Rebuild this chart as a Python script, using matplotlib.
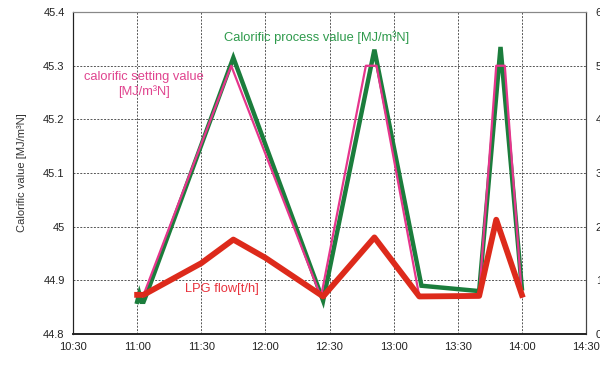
import matplotlib
matplotlib.use('Agg')
import matplotlib.pyplot as plt

# time stamps as "HH:MM"
set_time = ["11:00", "11:03", "11:44", "12:26", "12:47", "12:52", "13:12", "13:40", "13:48", "13:52", "14:00"]
set_value = [44.873, 44.873, 45.30, 44.869, 45.30, 45.30, 44.870, 44.871, 45.30, 45.30, 44.870]

proc_time = ["11:00", "11:01", "11:02", "11:03", "11:04", "11:45", "12:27", "12:51", "13:13", "13:40", "13:50", "14:00"]
proc_value = [44.86, 44.875, 44.86, 44.86, 44.87, 45.315, 44.862, 45.33, 44.89, 44.88, 45.335, 44.885]

lpg_time = ["11:00", "11:03", "11:30", "11:45", "12:00", "12:27", "12:51", "13:12", "13:40", "13:48", "14:00"]
lpg_flow = [0.73, 0.73, 1.32, 1.76, 1.42, 0.70, 1.80, 0.70, 0.71, 2.13, 0.73]

x_ticks = ["10:30", "11:00", "11:30", "12:00", "12:30", "13:00", "13:30", "14:00", "14:30"]
y_ticks = [44.8, 44.9, 45.0, 45.1, 45.2, 45.3, 45.4]
y_tick_labels = ["44.8", "44.9", "45", "45.1", "45.2", "45.3", "45.4"]
y2_ticks = [0, 1, 2, 3, 4, 5, 6]


def minutes(t):
    h, m = t.split(":")
    return int(h) * 60 + int(m)


plt.rcParams['font.family'] = ['Liberation Sans', 'DejaVu Sans']

fig = plt.figure(figsize=(6, 3.65), dpi=100)
ax = fig.add_axes([0.1217, 0.0849, 0.855, 0.882])

ax.plot([minutes(t) for t in proc_time], proc_value, color='#1b7d3c', lw=3.2, solid_joinstyle='miter', zorder=3)
ax.plot([minutes(t) for t in set_time], set_value, color='#e6358c', lw=1.6, zorder=4)

ax.set_xlim(minutes("10:30"), minutes("14:30"))
ax.set_ylim(44.8, 45.4)
ax.set_xticks([minutes(t) for t in x_ticks])
ax.set_xticklabels(x_ticks)
ax.set_yticks(y_ticks)
ax.set_yticklabels(y_tick_labels)
ax.grid(True, color='#555555', linestyle=(0, (2, 1.5)), lw=0.7)
ax.tick_params(length=0, labelsize=8, colors='#222222', pad=6)
ax.set_ylabel('Calorific value [MJ/m³N]', fontsize=8, color='#333333', labelpad=12)

ax2 = ax.twinx()
ax2.plot([minutes(t) for t in lpg_time], lpg_flow, color='#dd2a1b', lw=4.2, zorder=5)
ax2.set_ylim(0, 6)
ax2.set_yticks(y2_ticks)
ax2.tick_params(length=0, labelsize=8, colors='#222222', pad=7)

for a in (ax, ax2):
    a.spines['left'].set_color('#222222')
    a.spines['bottom'].set_color('#222222')
    a.spines['bottom'].set_linewidth(1.2)
    a.spines['right'].set_color('#444444')
    a.spines['top'].set_color('#888888')

ax.text(minutes("12:24"), 45.353, 'Calorific process value [MJ/m³N]', color='#2e9a4c',
        fontsize=9.3, ha='center', va='center')
ax.text(minutes("11:03"), 45.265, 'calorific setting value\n[MJ/m³N]', color='#e0448f',
        fontsize=9.3, ha='center', va='center', linespacing=1.25)
ax.text(minutes("11:22") + 0.5, 44.883, 'LPG flow[t/h]', color='#e8323c',
        fontsize=9.3, ha='left', va='center')

fig.savefig('out.png', dpi=100)
